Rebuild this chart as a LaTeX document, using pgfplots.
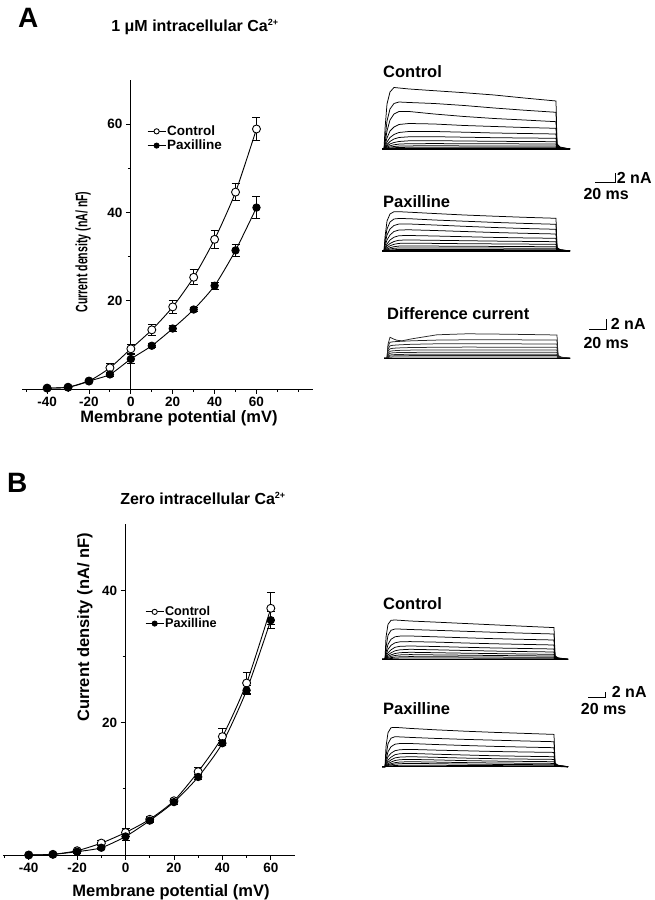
\documentclass[border=0pt]{standalone}
\usepackage{fontspec}
\setmainfont{Liberation Sans}
\usepackage{graphicx}
\usepackage{pgfplots}
\usepackage{pgfplotstable}
\pgfplotsset{compat=1.18}

\newcommand{\fs}[1]{\fontsize{#1}{#1}\selectfont\bfseries}

% ---------- current traces (x: ms-like px units, y: px units above baseline)
\pgfplotstableread{
t    a    b    c    d    e    f    g    h    i    j
-2   0    0    0    0    0    0    0    0    0    0
0    0    0    0    0    0    0    0    0    0    0
1    20   10   6    4    2.5  1.5  1    0.7  0.4  0.2
3    45   28   18   11   7    4.5  3    2    1.1  0.6
6    57   40   29   18   11.5 7.5  5    3.2  1.9  1
10   61.5 45.5 35   22   14.5 10   6.5  4.2  2.5  1.3
15   61   47   37.5 24.5 16.5 11.5 7.5  4.9  2.9  1.5
25   60   46.5 37.5 25.5 17.5 12.2 8.2  5.3  3.1  1.7
50   58.3 45.5 35   25   17.5 12.3 8.3  5.4  3.2  1.8
80   56.3 43.5 32.5 23.5 16.8 11.8 8    5.3  3.1  1.8
110  54   41   30.5 22.5 16   11.3 7.7  5.2  3.1  1.7
140  51   38.8 29   21.5 15.5 11   7.5  5.1  3    1.7
172  48   36.7 27.3 20.7 15   10.7 7.3  5    3    1.7
173  5    4    3    2.5  2    1.5  1    0.8  0.5  0.3
176  2    1.5  1.2  1    0.8  0.6  0.4  0.3  0.2  0.1
186  0    0    0    0    0    0    0    0    0    0
}\tabAC

\pgfplotstableread{
t    a    b    c    d    e    f    g    h    i    j
-2   0    0    0    0    0    0    0    0    0    0
0    0    0    0    0    0    0    0    0    0    0
1    14   10   7    5    3    2    1.3  0.8  0.5  0.2
3    30   22   16   11   7    5    3.3  2    1.2  0.6
6    37   29   22   16   11   7.5  5.2  3.3  2    1
10   39.3 32   25.5 19.5 13.8 9.5  6.7  4.3  2.7  1.3
15   39.3 32.5 27   21   15.3 10.8 7.6  4.9  3    1.5
25   38.8 32.3 27   21.2 15.5 11   7.8  5    3.1  1.5
50   37.5 31   26   20.5 15   10.7 7.6  4.9  3.1  1.5
80   36   29.8 24.7 19.5 14.3 10.3 7.3  4.7  3    1.4
110  34.8 28.6 23.5 18.5 13.6 9.9  7.1  4.6  2.9  1.4
140  33.7 27.6 22.5 17.7 13.1 9.6  6.9  4.4  2.8  1.3
172  32.7 26.7 21.7 17   12.7 9.3  6.7  4.3  2.7  1.3
173  3.5  3    2.5  2    1.5  1.2  0.9  0.6  0.4  0.2
176  1.5  1.2  1    0.8  0.6  0.5  0.4  0.3  0.2  0.1
186  0    0    0    0    0    0    0    0    0    0
}\tabAP

\pgfplotstableread{
t    a    b    c    d    e    f    g    h    i
-3   0    0    0    0    0    0    0    0    0
0    0    0    0    0    0    0    0    0    0
1    14   12   9    7    5    3.5  2.3  1.5  0.7
3    21   16   12.5 9.5  7    5    3.3  2.2  1.1
6    19.5 16.5 13   10   7.5  5.5  3.6  2.4  1.2
10   18   16.8 13.3 10.3 7.8  5.7  3.8  2.5  1.2
15   17.5 17   13.6 10.5 8    5.8  3.9  2.6  1.3
25   19.5 17.5 14   10.8 8.2  5.9  4    2.7  1.3
50   23.5 18.2 14.5 11   8.3  6    4    2.7  1.3
80   24.5 18.5 14.5 11.2 8.4  6    4    2.7  1.3
110  24.2 18.5 14.5 11.1 8.4  6    4    2.7  1.3
140  23.8 18.4 14.4 11   8.3  6    4    2.7  1.3
170  23.3 18.3 14.3 11   8.3  6    4    2.7  1.3
171  3    2.5  2    1.5  1.2  0.9  0.6  0.4  0.2
174  1.2  1    0.8  0.6  0.5  0.4  0.3  0.2  0.1
183  0    0    0    0    0    0    0    0    0
}\tabAD

\pgfplotstableread{
t    a    b    c    d    e    f    g    h    i    j
-3   0    0    0    0    0    0    0    0    0    0
0    0    0    0    0    0    0    0    0    0    0
1    22   12   7    4.5  3    2    1.3  0.8  0.5  0.2
3    35   24   15   10   6.5  4.5  3    1.9  1.1  0.5
6    39   29   20   14   9.5  6.5  4.4  2.9  1.7  0.8
10   39.3 30.3 22.5 16.5 12   8.5  5.8  3.8  2.2  1.1
15   39   30.2 23.2 17.5 13   9.5  6.6  4.4  2.5  1.2
25   38.3 29.8 23.3 17.7 13.3 10   7    4.7  2.7  1.3
50   37.2 29   22.5 17.2 12.8 9.5  6.6  4.4  2.5  1.2
80   35.8 28   21.5 16.3 12   8.8  6.1  4.1  2.4  1.2
110  34.4 27   20.6 15.5 11.3 8.2  5.7  3.8  2.2  1.1
140  33   26.1 19.9 14.9 10.8 7.7  5.3  3.5  2.1  1
169  31.7 25.3 19.3 14.3 10.3 7.3  5    3.3  2    1
170  3.5  3    2.5  2    1.5  1.1  0.8  0.5  0.3  0.2
173  1.5  1.2  1    0.8  0.6  0.5  0.4  0.3  0.2  0.1
183  0    0    0    0    0    0    0    0    0    0
}\tabBC

\pgfplotstableread{
t    a    b    c    d    e    f    g    h    i    j
-3   0    0    0    0    0    0    0    0    0    0
0    0    0    0    0    0    0    0    0    0    0
1    20   11   7    4.5  3    2    1.3  0.8  0.5  0.2
3    34   23   15   10   6.5  4.5  3    2    1.2  0.6
6    39   28.5 20   13.5 9.5  6.8  4.6  3    1.9  0.9
10   39.3 30   22.5 16   12   8.8  6.2  4    2.6  1.2
15   39   29.8 23.2 17   13   9.6  7    4.7  3    1.4
25   38.3 29.3 23.2 17.3 13.3 10   7.3  5    3.3  1.5
50   36.9 28.3 22.2 16.6 12.5 9.4  6.8  4.6  3    1.4
80   35.5 27.3 21.2 15.9 11.7 8.6  6.1  4.1  2.6  1.2
110  34.3 26.5 20.3 15.2 10.9 8    5.6  3.7  2.3  1.1
140  33.3 25.7 19.6 14.7 10.4 7.6  5.3  3.5  2.1  1
169  32.3 25   19   14.3 10   7.3  5    3.3  2    1
170  3.5  3    2.5  2    1.5  1.1  0.8  0.5  0.3  0.2
173  1.5  1.2  1    0.8  0.6  0.5  0.4  0.3  0.2  0.1
183  0    0    0    0    0    0    0    0    0    0
}\tabBP

\pgfplotsset{
  ivaxis/.style={
    scale only axis, axis lines=middle,
    axis line style={-, line width=0.9pt},
    tick align=outside, major tick length=5pt, minor tick length=3pt,
    every tick/.style={line width=0.9pt, black},
    every minor tick/.style={line width=0.9pt, black},
    ticklabel style={font=\fs{13.5}},
    /pgf/number format/assume math mode=true,
    hide obscured x ticks=false, hide obscured y ticks=false,
    clip=false,
    xtick={-40,-20,0,20,40,60},
    legend cell align=left,
    legend image code/.code={\draw[mark repeat=2, mark phase=2, ##1, mark size=2.6pt, line width=0.8pt] plot coordinates {(0pt,0pt) (9pt,0pt) (18pt,0pt)};},
  },
  ctrl/.style={black, line width=0.9pt, smooth, tension=0.4, mark=*, mark size=4pt,
    mark options={fill=white, line width=0.9pt},
    error bars/y dir=both, error bars/y explicit,
    error bars/error bar style={line width=0.9pt},
    error bars/error mark options={rotate=90, mark size=4pt, line width=0.9pt}},
  paxi/.style={black, line width=0.9pt, smooth, tension=0.4, mark=*, mark size=3.7pt,
    mark options={fill=black},
    error bars/y dir=both, error bars/y explicit,
    error bars/error bar style={line width=0.9pt},
    error bars/error mark options={rotate=90, mark size=4pt, line width=0.9pt}},
  trace/.style={hide axis, x=1pt, y=1pt, anchor=south west, clip=false,
    xmin=0, xmax=190, ymin=0, ymax=65},
  tr/.style={black, line width=0.75pt},
}

\begin{document}
\begin{tikzpicture}
\path[use as bounding box] (0pt,0pt) rectangle (654pt,900pt);

% ================= Panel A : I-V =================
\begin{axis}[ivaxis, at={(22pt,511pt)}, anchor=south west,
  width=291pt, height=309pt,
  xmin=-52, xmax=87, ymin=0, ymax=70,
  minor xtick={-50,-30,-10,10,30,50,70,80},
  ytick={20,40,60}, minor ytick={10,30,50},
  xlabel={Membrane potential (mV)},
  ylabel={\scalebox{0.64}[1]{Current density (nA/ nF)}},
  every axis x label/.style={at={(axis description cs:0.5395,-0.110)}, anchor=base, font=\fs{16.5}},
  every axis y label/.style={at={(axis description cs:0.2096,0.4434)}, anchor=center, rotate=90, font=\fs{16.5}},
  legend style={at={(axis description cs:0.4296,0.856)}, anchor=north west,
    draw=none, fill=none, font=\fs{13.5}, row sep=1pt, inner sep=0pt,
    nodes={inner sep=1pt}},
]
\addplot[ctrl] coordinates {
  (-40,0.2) +- (0,0.2)
  (-30,0.4) +- (0,0.2)
  (-20,1.8) +- (0,0.4)
  (-10,4.8) +- (0,1.0)
  (0,9.1)   +- (0,1.1)
  (10,13.4) +- (0,1.2)
  (20,18.6) +- (0,1.4)
  (30,25.3) +- (0,1.7)
  (40,33.9) +- (0,2.0)
  (50,44.6) +- (0,2.0)
  (60,58.9) +- (0,2.7)
};
\addplot[paxi] coordinates {
  (-40,0.2) +- (0,0.2)
  (-30,0.4) +- (0,0.2)
  (-20,1.8) +- (0,0.3)
  (-10,3.3) +- (0,0.5)
  (0,6.8)   +- (0,1.0)
  (10,9.8)  +- (0,0.5)
  (20,13.7) +- (0,0.7)
  (30,18.0) +- (0,0.5)
  (40,23.4) +- (0,0.8)
  (50,31.4) +- (0,1.3)
  (60,41.1) +- (0,2.5)
};
\legend{Control,Paxilline}
\end{axis}

% ================= Panel B : I-V =================
\begin{axis}[ivaxis, at={(3.3pt,45pt)}, anchor=south west,
  width=291.7pt, height=330.7pt,
  xmin=-50.5, xmax=70, ymin=0, ymax=50,
  minor xtick={-50,-30,-10,10,30,50},
  ytick={20,40}, minor ytick={10,30},
  xlabel={Membrane potential (mV)},
  ylabel={Current density (nA/ nF)},
  every axis x label/.style={at={(axis description cs:0.575,-0.126)}, anchor=base, font=\fs{16.5}},
  every axis y label/.style={at={(axis description cs:0.280,0.688)}, anchor=center, rotate=90, font=\fs{16.5}},
  legend style={at={(axis description cs:0.486,0.755)}, anchor=north west,
    draw=none, fill=none, font=\fs{12.7}, row sep=-1pt, inner sep=0pt,
    nodes={inner sep=1pt}},
]
\addplot[ctrl] coordinates {
  (-40,0.0)  +- (0,0.1)
  (-30,0.1)  +- (0,0.1)
  (-20,0.65) +- (0,0.2)
  (-10,1.8)  +- (0,0.4)
  (0,3.4)    +- (0,0.6)
  (10,5.4)   +- (0,0.4)
  (20,8.2)   +- (0,0.3)
  (30,12.6)  +- (0,0.7)
  (40,17.9)  +- (0,1.3)
  (50,26.0)  +- (0,1.6)
  (60,37.3)  +- (0,2.4)
};
\addplot[paxi] coordinates {
  (-40,0.0)  +- (0,0.1)
  (-30,0.1)  +- (0,0.1)
  (-20,0.5)  +- (0,0.2)
  (-10,1.1)  +- (0,0.3)
  (0,2.8)    +- (0,0.6)
  (10,5.2)   +- (0,0.3)
  (20,8.0)   +- (0,0.3)
  (30,11.8)  +- (0,0.4)
  (40,16.9)  +- (0,0.4)
  (50,24.9)  +- (0,0.7)
  (60,35.5)  +- (0,1.3)
};
\legend{Control,Paxilline}
\end{axis}

% ================= Traces =================
% A control
\begin{axis}[trace, at={(384pt,751pt)}]
\pgfplotsinvokeforeach{j,i,h,g,f,e,d,c,b,a}{\addplot[tr] table[x=t,y=#1]{\tabAC};}
\addplot[black, line width=1.5pt] coordinates {(-2,0) (186,0)};
\addplot[black, line width=0.7pt] coordinates {(211,-33.3) (231,-33.3) (231,-24.3)};
\end{axis}
% A paxilline
\begin{axis}[trace, at={(384pt,649pt)}]
\pgfplotsinvokeforeach{j,i,h,g,f,e,d,c,b,a}{\addplot[tr] table[x=t,y=#1]{\tabAP};}
\addplot[black, line width=1.5pt] coordinates {(-2,0) (186,0)};
\end{axis}
% A difference
\begin{axis}[trace, at={(387pt,541.7pt)}]
\pgfplotsinvokeforeach{i,h,g,f,e,d,c,b,a}{\addplot[tr, black!85] table[x=t,y=#1]{\tabAD};}
\addplot[black, line width=1.5pt] coordinates {(-3,0) (183,0)};
\addplot[black, line width=0.7pt] coordinates {(202.3,29) (219.7,29) (219.7,39)};
\end{axis}
% B control
\begin{axis}[trace, at={(385pt,240.7pt)}]
\pgfplotsinvokeforeach{j,i,h,g,f,e,d,c,b,a}{\addplot[tr] table[x=t,y=#1]{\tabBC};}
\addplot[black, line width=1.5pt] coordinates {(-3,0) (183,0)};
\addplot[black, line width=0.7pt] coordinates {(203.3,-38.4) (220,-38.4) (220,-32.4)};
\end{axis}
% B paxilline
\begin{axis}[trace, at={(385pt,133.3pt)}]
\pgfplotsinvokeforeach{j,i,h,g,f,e,d,c,b,a}{\addplot[tr] table[x=t,y=#1]{\tabBP};}
\addplot[black, line width=1.5pt] coordinates {(-3,0) (183,0)};
\end{axis}

% ================= Text =================
\node[anchor=base west, inner sep=0, font=\fs{28}] at (18pt,872pt) {A};
\node[anchor=base west, inner sep=0, font=\fs{28}] at (7pt,407pt) {B};
\node[anchor=base, inner sep=0, font=\fs{16}] at (195pt,868.3pt) {1 μM intracellular Ca\textsuperscript{\fontsize{9}{9}\selectfont 2+}};
\node[anchor=base, inner sep=0, font=\fs{16}] at (203pt,395pt) {Zero intracellular Ca\textsuperscript{\fontsize{9}{9}\selectfont 2+}};

\node[anchor=base west, inner sep=0, font=\fs{16.5}] at (383pt,822pt) {Control};
\node[anchor=base west, inner sep=0, font=\fs{16.5}] at (383pt,692.7pt) {Paxilline};
\node[anchor=base west, inner sep=0, font=\fs{16.5}] at (387pt,580.7pt) {Difference current};
\node[anchor=base west, inner sep=0, font=\fs{16}] at (616.7pt,716.7pt) {2 nA};
\node[anchor=base west, inner sep=0, font=\fs{16}] at (583.3pt,700pt) {20 ms};
\node[anchor=base west, inner sep=0, font=\fs{16}] at (610.7pt,570pt) {2 nA};
\node[anchor=base west, inner sep=0, font=\fs{16}] at (583.3pt,551.7pt) {20 ms};

\node[anchor=base west, inner sep=0, font=\fs{16.5}] at (383pt,290pt) {Control};
\node[anchor=base west, inner sep=0, font=\fs{16.5}] at (383pt,185pt) {Paxilline};
\node[anchor=base west, inner sep=0, font=\fs{16}] at (611.7pt,202.7pt) {2 nA};
\node[anchor=base west, inner sep=0, font=\fs{16}] at (580.7pt,185pt) {20 ms};
\end{tikzpicture}
\end{document}
